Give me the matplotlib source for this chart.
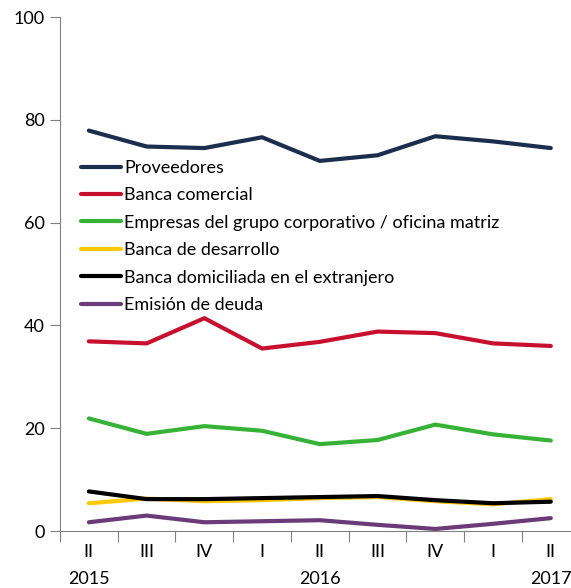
import matplotlib
matplotlib.use("Agg")
import matplotlib.pyplot as plt
import numpy as np

# quarters (II-2015 .. II-2017)
trimestres = ['II', 'III', 'IV', 'I', 'II', 'III', 'IV', 'I', 'II']
anios = {0: '2015', 4: '2016', 8: '2017'}

proveedores = [77.9, 74.8, 74.5, 76.6, 72.0, 73.1, 76.8, 75.8, 74.5]
banca_comercial = [36.9, 36.5, 41.4, 35.5, 36.8, 38.8, 38.5, 36.5, 36.0]
empresas_grupo = [21.9, 18.9, 20.4, 19.5, 16.9, 17.7, 20.7, 18.8, 17.6]
banca_desarrollo = [5.4, 6.3, 5.8, 6.0, 6.4, 6.6, 5.8, 5.2, 6.2]
banca_extranjero = [7.7, 6.2, 6.2, 6.4, 6.6, 6.8, 6.0, 5.4, 5.7]
emision_deuda = [1.7, 3.0, 1.7, 1.9, 2.1, 1.2, 0.4, 1.4, 2.5]

series = [
    ('Proveedores', proveedores, '#1c2e4e'),
    ('Banca comercial', banca_comercial, '#c8102e'),
    ('Empresas del grupo corporativo / oficina matriz', empresas_grupo, '#36b236'),
    ('Banca de desarrollo', banca_desarrollo, '#ffc800'),
    ('Banca domiciliada en el extranjero', banca_extranjero, '#000000'),
    ('Emisión de deuda', emision_deuda, '#6b3a78'),
]

plt.rcParams['font.family'] = ['Lato', 'DejaVu Sans']

fig = plt.figure(figsize=(5.71, 5.88), dpi=100)
ax = fig.add_axes([60 / 571, 57 / 588, 511 / 571, 514 / 588])

x = np.arange(len(trimestres))
for nombre, vals, col in series:
    ax.plot(x, vals, color=col, lw=3.0, label=nombre, solid_capstyle='round')

ax.set_xlim(-0.5, 8.35)
ax.set_ylim(0, 100)
ax.set_yticks(range(0, 101, 20))
ax.tick_params(axis='y', labelsize=13, length=7, color='#808080', pad=4)

ax.set_xticks(np.arange(-0.5, 8.5, 1.0))
ax.set_xticklabels([])
ax.tick_params(axis='x', length=8, color='#808080')
for i, t in enumerate(trimestres):
    ax.text(i, -2.6, t, ha='center', va='top', fontsize=13)
for i, a in anios.items():
    ax.text(i, -7.7, a, ha='center', va='top', fontsize=13)

for s in ['top', 'right']:
    ax.spines[s].set_visible(False)
for s in ['left', 'bottom']:
    ax.spines[s].set_color('#808080')

leg = ax.legend(loc='upper left', bbox_to_anchor=(81 / 571, 1 - 160 / 588),
                bbox_transform=fig.transFigure, frameon=False, fontsize=13,
                handlelength=2.2, handletextpad=0.2, labelspacing=0.63,
                borderpad=0, borderaxespad=0)

fig.savefig('out.png', dpi=100)
